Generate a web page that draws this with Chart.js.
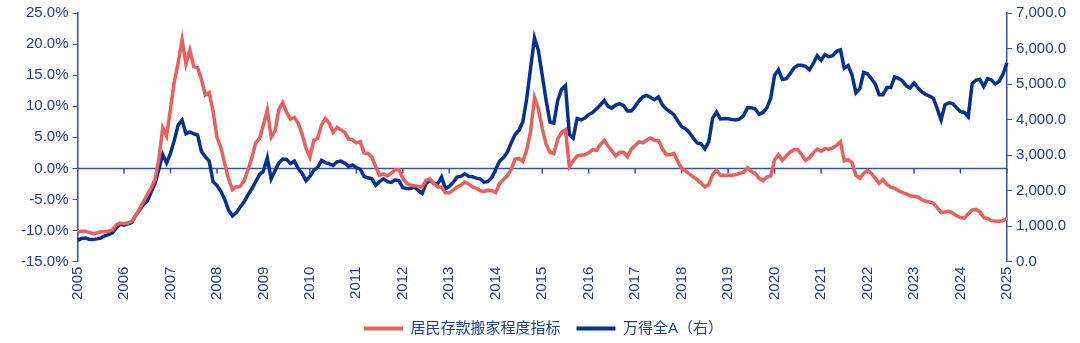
<!DOCTYPE html>
<html>
<head>
<meta charset="utf-8">
<script src="https://cdn.jsdelivr.net/npm/chart.js@4.4.1/dist/chart.umd.min.js"></script>
<style>
  html, body { margin: 0; padding: 0; background: #ffffff; }
  #wrap { width: 1080px; height: 343px; }
</style>
</head>
<body>
<div id="wrap"><canvas id="myChart" width="1080" height="343"></canvas></div>
<script>
// tick labels (years) for the bottom axis
const years = ["2005", "2006", "2007", "2008", "2009", "2010", "2011", "2012", "2013", "2014",
  "2015", "2016", "2017", "2018", "2019", "2020", "2021", "2022", "2023", "2024", "2025"];

// monthly categories, 2005-01 .. 2025-01
const months = [];
years.forEach((y) => {
  const last = y === "2025" ? 1 : 12;
  for (let m = 1; m <= last; m++) months.push(y + "-" + String(m).padStart(2, "0"));
});

// 居民存款搬家程度指标 (%), left axis
const depositShift = [
  -10.3, -10.1, -10.1, -10.3, -10.5, -10.4, -10.2, -10.2, -10.1, -9.9, -9.1, -8.8,
  -8.9, -8.8, -8.5, -7.6, -6.5, -5.4, -4.2, -3.2, -1.8, 1.5, 6.5, 5.2,
  9.5, 14.0, 17.0, 20.7, 16.8, 19.0, 16.4, 16.2, 14.3, 11.8, 12.2, 9.2,
  5.0, 3.4, 0.8, -1.7, -3.4, -3.0, -2.9, -2.0, -0.3, 1.7, 4.1, 4.8,
  7.0, 9.4, 5.0, 6.0, 9.5, 10.6, 9.0, 7.9, 8.2, 7.2, 5.5, 3.2,
  1.8, 4.5, 4.8, 7.0, 8.0, 7.3, 5.8, 6.6, 6.2, 5.8, 4.7, 4.6,
  4.1, 4.3, 2.5, 2.4, 1.8, 0.3, -1.1, -0.9, -1.2, -0.8, -0.2, -0.2,
  -1.6, -2.4, -2.7, -2.8, -2.9, -3.0, -1.9, -1.7, -2.4, -3.0, -3.0, -3.9,
  -3.9, -3.5, -3.0, -2.7, -2.2, -2.5, -3.0, -3.2, -3.6, -3.7, -3.5, -3.6,
  -3.9, -2.4, -1.8, -1.2, -0.1, 1.5, 1.6, 1.1, 3.0, 6.0, 11.4, 9.6,
  6.4, 3.9, 2.6, 2.4, 4.7, 5.8, 6.2, 0.3, 1.2, 2.0, 2.1, 2.2,
  2.5, 3.0, 2.9, 3.8, 4.5, 3.6, 2.8, 2.0, 2.6, 2.6, 1.9, 3.1,
  3.7, 4.3, 4.1, 4.6, 4.9, 4.5, 4.5, 3.2, 2.2, 2.2, 2.4, 1.1,
  0.0, -0.4, -0.9, -1.4, -1.8, -2.4, -3.0, -2.6, -1.0, -0.3, -1.1, -1.1,
  -1.1, -1.1, -1.0, -0.8, -0.6, 0.1, -0.5, -0.8, -1.6, -2.0, -1.4, -1.2,
  1.4, 2.2, 1.3, 2.0, 2.6, 3.0, 3.0, 2.2, 1.3, 1.7, 2.5, 3.1,
  2.75, 3.2, 3.1, 3.3, 3.7, 4.3, 1.2, 1.4, 0.9, -1.1, -1.6, -0.8,
  -0.3, -0.8, -1.6, -2.4, -1.8, -2.6, -3.0, -3.2, -3.6, -3.9, -4.1, -4.4,
  -4.5, -4.6, -5.0, -5.3, -5.4, -5.6, -6.3, -7.1, -7.0, -6.9, -7.2, -7.6,
  -7.9, -8.0, -7.3, -6.7, -6.6, -7.0, -7.9, -8.1, -8.4, -8.5, -8.5, -8.4,
  -8.0
];

// 万得全A (points), right axis
const windAllA = [
  600, 650, 665, 630, 620, 640, 665, 725, 762, 809, 949, 1060,
  1024, 1061, 1099, 1300, 1450, 1600, 1700, 1950, 2200, 2600, 3020, 2780,
  3050, 3420, 3850, 3980, 3600, 3650, 3600, 3560, 3100, 2950, 2830, 2250,
  2150, 1980, 1760, 1450, 1290, 1380, 1540, 1680, 1880, 2050, 2250, 2450,
  2550, 2920, 2330, 2560, 2780, 2890, 2880, 2760, 2830, 2620, 2480, 2280,
  2400, 2570, 2650, 2850, 2790, 2750, 2710, 2810, 2830, 2770, 2680, 2720,
  2650, 2600, 2400, 2360, 2330, 2150, 2250, 2330, 2250, 2230, 2300, 2280,
  2080, 2060, 2060, 2100, 2000, 1920, 2200, 2300, 2200, 2190, 2380, 2050,
  2120, 2230, 2380, 2400, 2470, 2400, 2390, 2350, 2330, 2230, 2260, 2370,
  2600, 2830, 2930, 3080, 3350, 3580, 3700, 3940, 4600, 5450, 6300, 5950,
  5250, 4540, 3930, 3900, 4540, 4850, 4950, 3580, 3480, 4030, 3990, 4040,
  4140, 4200, 4300, 4410, 4540, 4370, 4320, 4410, 4450, 4390, 4240, 4240,
  4370, 4530, 4640, 4680, 4620, 4560, 4640, 4420, 4300, 4220, 4140, 3960,
  3800, 3740, 3630, 3480, 3340, 3320, 3170, 3380, 4040, 4210, 4020, 4030,
  4020, 4000, 3990, 4020, 4110, 4330, 4330, 4300, 4150, 4200, 4330, 4600,
  5250, 5400, 5130, 5150, 5290, 5450, 5530, 5530, 5500, 5400, 5580, 5800,
  5670, 5830, 5770, 5800, 5920, 5960, 5450, 5520, 5250, 4750, 4870, 5330,
  5290, 5150, 5000, 4700, 4700, 4900, 4900, 5200, 5160, 5090, 4950, 4890,
  5030, 4900, 4780, 4710, 4660, 4600, 4300, 3990, 4420, 4470, 4450, 4330,
  4220, 4200, 4080, 5000, 5110, 5130, 4930, 5150, 5110, 5000, 5080, 5280,
  5600
];

const textColor = "#1f3c8c";
const axisColor = "#3553a6";
const redColor = "#e8615f";
const blueColor = "#05318f";
const baseFont = { family: '"Liberation Sans", Arial, "Noto Sans CJK SC", sans-serif', size: 15 };

// horizontal 0% line with the small year ticks hanging from it
const zeroLine = {
  id: "zeroLine",
  beforeDatasetsDraw(chart) {
    const { ctx, chartArea, scales } = chart;
    const y0 = scales.y.getPixelForValue(0);
    ctx.save();
    ctx.strokeStyle = axisColor;
    ctx.lineWidth = 1.5;
    ctx.beginPath();
    ctx.moveTo(chartArea.left, y0);
    ctx.lineTo(chartArea.right, y0);
    months.forEach((m, i) => {
      if (i > 0 && m.endsWith("-01")) {
        const x = scales.x.getPixelForValue(i);
        ctx.moveTo(x, y0);
        ctx.lineTo(x, y0 + 5);
      }
    });
    ctx.stroke();
    ctx.restore();
  }
};

document.addEventListener("DOMContentLoaded", () => {
  const ctx = document.getElementById("myChart");
  new Chart(ctx, {
    type: "line",
    data: {
      labels: months,
      datasets: [
        {
          label: "居民存款搬家程度指标",
          data: depositShift,
          yAxisID: "y",
          borderColor: redColor,
          backgroundColor: redColor,
          borderWidth: 3.5,
          pointRadius: 0,
          tension: 0,
        },
        {
          label: "万得全A（右）",
          data: windAllA,
          yAxisID: "y1",
          borderColor: blueColor,
          backgroundColor: blueColor,
          borderWidth: 3.5,
          pointRadius: 0,
          tension: 0,
        },
      ],
    },
    options: {
      responsive: false,
      animation: false,
      devicePixelRatio: 1,
      layout: { padding: { top: -2, right: 10, left: 17, bottom: -3 } },
      plugins: {
        tooltip: { enabled: false },
        legend: {
          position: "bottom",
          labels: {
            color: textColor,
            font: baseFont,
            boxWidth: 39,
            boxHeight: 4,
            padding: 16,
            generateLabels: (chart) =>
              chart.data.datasets.map((ds, i) => ({
                text: ds.label,
                fillStyle: ds.borderColor,
                strokeStyle: ds.borderColor,
                lineWidth: 0,
                hidden: false,
                datasetIndex: i,
                fontColor: textColor,
              })),
          },
        },
      },
      scales: {
        x: {
          grid: { display: false, drawTicks: false },
          border: { display: false },
          ticks: {
            autoSkip: false,
            minRotation: 90,
            maxRotation: 90,
            padding: 5,
            color: textColor,
            font: baseFont,
            callback: (val, idx) => (months[idx].endsWith("-01") ? months[idx].slice(0, 4) : ""),
          },
        },
        y: {
          position: "left",
          min: -15,
          max: 25,
          ticks: {
            stepSize: 5,
            color: textColor,
            font: baseFont,
            padding: 4,
            callback: (v) => v.toFixed(1) + "%",
          },
          grid: { drawOnChartArea: false, drawTicks: true, tickLength: 5, tickColor: axisColor, color: axisColor },
          border: { display: true, color: axisColor, width: 1.5 },
        },
        y1: {
          position: "right",
          min: 0,
          max: 7000,
          ticks: {
            stepSize: 1000,
            color: textColor,
            font: baseFont,
            padding: 4,
            callback: (v) => v.toLocaleString("en-US", { minimumFractionDigits: 1, maximumFractionDigits: 1 }),
          },
          grid: { drawOnChartArea: false, drawTicks: true, tickLength: 5, tickColor: axisColor, color: axisColor },
          border: { display: true, color: axisColor, width: 1.5 },
        },
      },
    },
    plugins: [zeroLine],
  });
});
</script>
</body>
</html>
